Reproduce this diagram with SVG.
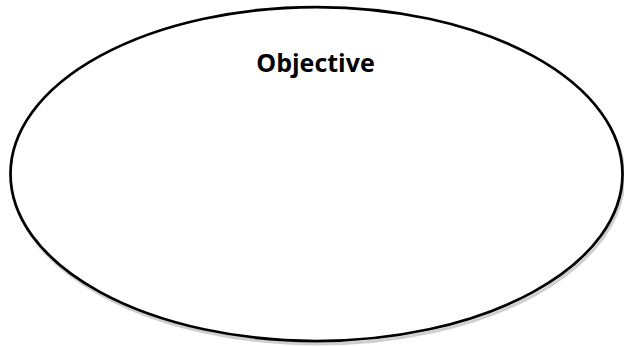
<svg xmlns="http://www.w3.org/2000/svg" width="624" height="347" viewBox="0 0 624 347">
<style>
.shadow{fill:none;stroke:#cfcfcf;stroke-width:3}
.outline{fill:#fff;stroke:#000;stroke-width:2.75}
.label{font-family:"Open Sans","Liberation Sans",sans-serif;font-weight:bold;font-size:25px;fill:#000}
</style>
<rect width="624" height="347" fill="#fff"/>
<g id="objective">
<ellipse class="shadow" cx="318" cy="177" rx="306" ry="167"/>
<ellipse class="outline" cx="316.5" cy="174" rx="306" ry="167"/>
<text class="label" x="315.5" y="72" text-anchor="middle">Objective</text>
</g>
<g id="connectors"/>
</svg>
